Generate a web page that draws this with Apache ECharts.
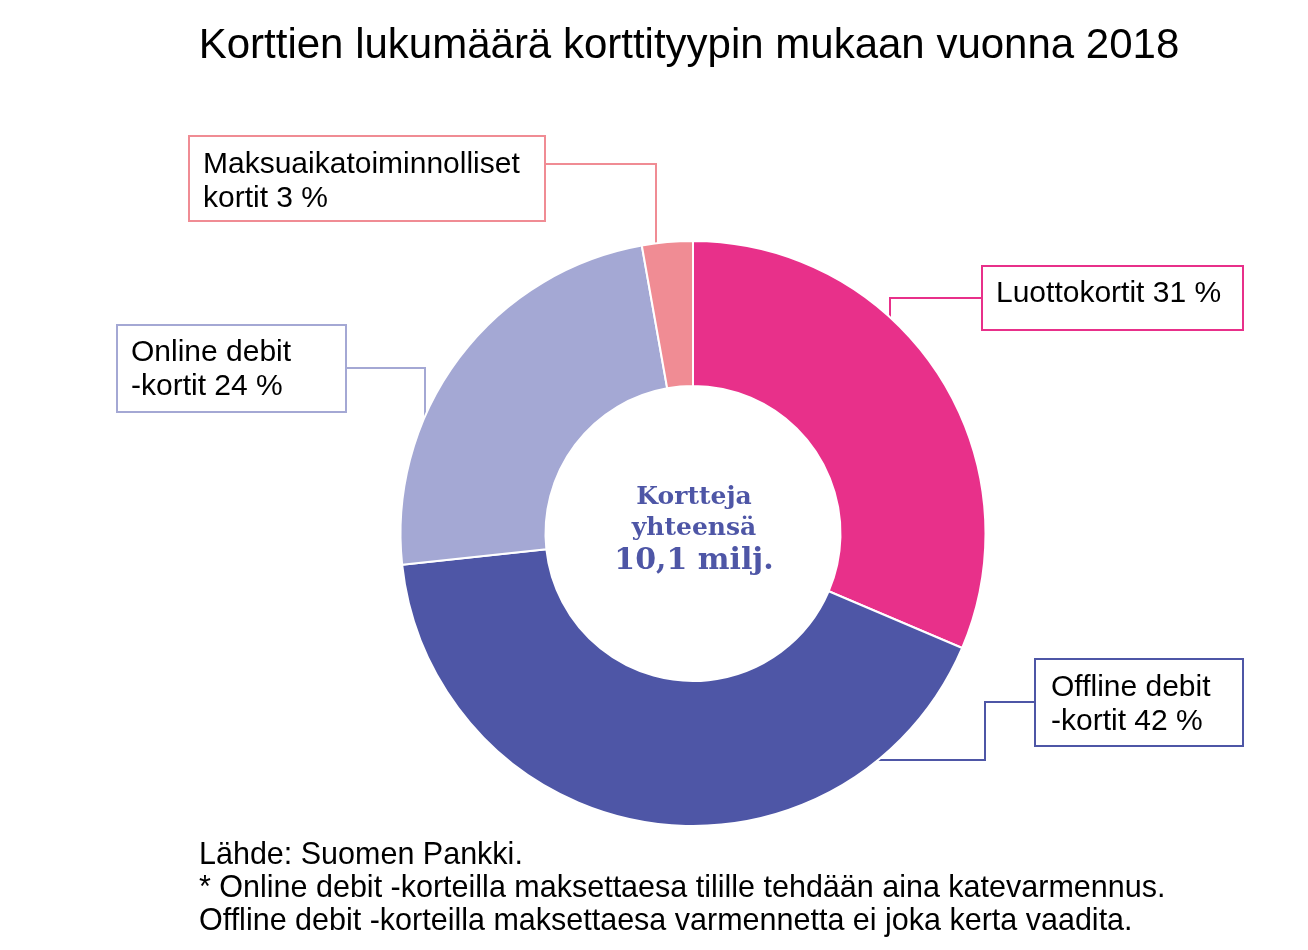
<!DOCTYPE html>
<html><head><meta charset="utf-8">
<script src="https://cdn.jsdelivr.net/npm/echarts@6/dist/echarts.min.js"></script>
<style>html,body{margin:0;padding:0;background:#fff}#c{width:1308px;height:950px}</style>
</head><body><div id="c"></div>
<script>
const titleText = 'Korttien lukumäärä korttityypin mukaan vuonna 2018';
const categories = ['Luottokortit', 'Offline debit\n-kortit', 'Online debit\n-kortit', 'Maksuaikatoiminnolliset\nkortit'];
const shares = [31.4, 41.9, 23.9, 2.8];
const colors = ['#E8308A', '#4E56A6', '#A4A8D4', '#F08C94'];
const centerLines = ['Kortteja', 'yhteensä', '10,1 milj.'];
const footerLines = [
  'Lähde: Suomen Pankki.',
  '* Online debit -korteilla maksettaesa tilille tehdään aina katevarmennus.',
  'Offline debit -korteilla maksettaesa varmennetta ei joka kerta vaadita.'
];

// label box layout (pixels)
const labelBoxes = [
  {x: 983, y: 267, w: 233, h: 34, pad: [10, 13, 18, 13], line: [[890, 317], [890, 298], [983, 298]]},
  {x: 1036, y: 660, w: 177, h: 68, pad: [11, 14, 6, 15], line: [[878, 760], [985, 760], [985, 702], [1036, 702]]},
  {x: 118, y: 326, w: 201, h: 68, pad: [10, 13, 7, 13], line: [[425, 416], [425, 368], [344, 368]]},
  {x: 190, y: 137, w: 328, h: 68, pad: [11, 13, 4, 13], line: [[656, 243], [656, 164], [544, 164]]}
];

const SANS = '"Liberation Sans", Arial, sans-serif';
const SERIF = '"DejaVu Serif", Georgia, serif';

const pieData = categories.map((n, i) => ({
  name: n,
  value: shares[i],
  itemStyle: {color: colors[i]},
  label: {borderColor: colors[i], width: labelBoxes[i].w, height: labelBoxes[i].h, padding: labelBoxes[i].pad},
  labelLine: {lineStyle: {color: colors[i], width: 2}}
}));

const graphic = [];
graphic.push({type: 'text', x: 689, y: 46, silent: true,
  style: {text: titleText, font: '42px ' + SANS, fill: '#000', align: 'center', verticalAlign: 'middle', textAlign: 'center', textVerticalAlign: 'middle'}});
const centerY = [497, 528, 561];
const centerFs = [25, 25, 30];
centerLines.forEach((t, i) => graphic.push({type: 'text', x: 694, y: centerY[i], silent: true,
  style: {text: t, font: 'bold ' + centerFs[i] + 'px ' + SERIF, fill: '#4E56A6', align: 'center', verticalAlign: 'middle', textAlign: 'center', textVerticalAlign: 'middle'}}));
const footY = [856, 889, 922];
footerLines.forEach((t, i) => graphic.push({type: 'text', x: 199, y: footY[i], silent: true,
  style: {text: t, font: '30.5px ' + SANS, fill: '#000', align: 'left', verticalAlign: 'middle', textAlign: 'left', textVerticalAlign: 'middle'}}));

const chart = echarts.init(document.getElementById('c'), null, {renderer: 'canvas'});
chart.setOption({
  animation: false,
  backgroundColor: '#fff',
  graphic: graphic,
  series: [{
    type: 'pie',
    center: [693, 533.5],
    radius: [147.5, 292.5],
    startAngle: 90,
    clockwise: true,
    avoidLabelOverlap: false,
    minShowLabelAngle: 0,
    silent: true,
    emphasis: {disabled: true},
    itemStyle: {borderColor: '#fff', borderWidth: 2},
    label: {
      show: true,
      position: 'outside',
      formatter: p => p.name + ' ' + Math.round(p.value) + ' %',
      fontFamily: SANS,
      fontSize: 30,
      lineHeight: 34,
      color: '#000',
      backgroundColor: '#fff',
      borderWidth: 2,
      align: 'left',
      verticalAlign: 'top',
      overflow: 'none'
    },
    labelLine: {show: true, length: 10, length2: 10, smooth: false},
    labelLayout: function (p) {
      const b = labelBoxes[p.dataIndex];
      return {x: b.x, y: b.y, align: 'left', verticalAlign: 'top', labelLinePoints: b.line};
    },
    data: pieData
  }]
});
</script>
</body></html>
